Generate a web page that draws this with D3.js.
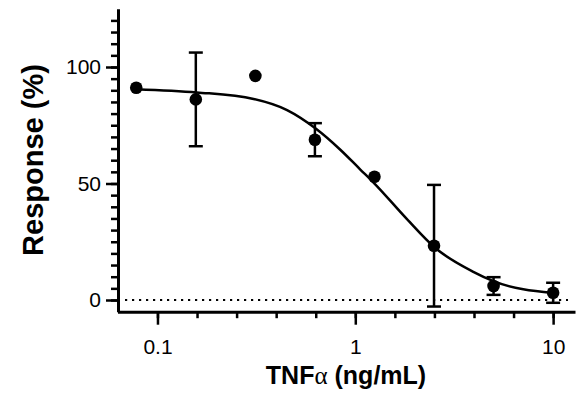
<!DOCTYPE html>
<html>
<head>
<meta charset="utf-8">
<script src="https://cdn.jsdelivr.net/npm/d3@7"></script>
<style>
	body { margin: 0; background: #fff; }
	svg text { font-family: "Liberation Sans", Arial, sans-serif; fill: #000; }
</style>
</head>
<body>
<div id="chart"></div>
<script>
// measured points (TNFa dilution series), mean and error (+/-)
const conc = [0.078125, 0.15625, 0.3125, 0.625, 1.25, 2.5, 5, 10];
const response = [91.1, 86.1, 96.2, 68.8, 52.9, 23.3, 6.0, 3.1];
const errs = [0, 20.1, 0, 7.1, 0, 26.1, 3.8, 4.3];

// fitted curve
const curveConc = [0.078, 0.158, 0.306, 0.452, 0.628, 0.84, 1.06, 1.24, 1.82, 2.53, 3.95, 4.99, 10];
const curveResp = [90.5, 89.1, 86.3, 81.5, 73.7, 64.5, 56.0, 50.3, 34.8, 22.4, 12.1, 8.1, 3.0];

const xMajor = [0.1, 1, 10];
const yMajor = [0, 50, 100];

const width = 582;
const height = 395;

const svg = d3.select("#chart")
	.append("svg")
	.attr("width", width)
	.attr("height", height);

const x = d3.scaleLog()
	.domain([0.0628, 12.9])
	.range([117.5, 575]);

const y = d3.scaleLinear()
	.domain([-5, 125])
	.range([311.65, 8.75]);

const axisY = 311.7;
const axisX = 118;

// minor ticks
const xMinor = d3.range(0, 11).map(k => Math.pow(10, -1 + 0.2 * k));
const yMinor = d3.range(0, 121, 5);

svg.append("g")
	.attr("transform", `translate(0,${axisY})`)
	.call(d3.axisBottom(x).tickValues(xMinor).tickSize(6.5).tickSizeOuter(0).tickFormat(""))
	.call(g => g.select(".domain").remove())
	.call(g => g.selectAll("line").attr("stroke", "#000").attr("stroke-width", 2.5));

svg.append("g")
	.attr("transform", `translate(${axisX},0)`)
	.call(d3.axisLeft(y).tickValues(yMinor).tickSize(7).tickSizeOuter(0).tickFormat(""))
	.call(g => g.select(".domain").remove())
	.call(g => g.selectAll("line").attr("stroke", "#000").attr("stroke-width", 2.5));

// major axes
svg.append("g")
	.attr("transform", `translate(0,${axisY})`)
	.call(d3.axisBottom(x).tickValues(xMajor).tickSize(13).tickSizeOuter(0).tickPadding(14)
		.tickFormat(d => String(d)))
	.call(g => g.select(".domain").attr("stroke", "#000").attr("stroke-width", 3))
	.call(g => g.selectAll("line").attr("stroke", "#000").attr("stroke-width", 2.5))
	.call(g => g.selectAll("text").attr("font-size", 21).attr("font-family", "Liberation Sans, Arial, sans-serif"));

svg.append("g")
	.attr("transform", `translate(${axisX},0)`)
	.call(d3.axisLeft(y).tickValues(yMajor).tickSize(12).tickSizeOuter(0).tickPadding(5))
	.call(g => g.select(".domain").attr("stroke", "#000").attr("stroke-width", 3))
	.call(g => g.selectAll("line").attr("stroke", "#000").attr("stroke-width", 2.5))
	.call(g => g.selectAll("text").attr("font-size", 21).attr("font-family", "Liberation Sans, Arial, sans-serif"));

// zero reference line
svg.append("line")
	.attr("x1", 125)
	.attr("x2", 568)
	.attr("y1", y(0))
	.attr("y2", y(0))
	.attr("stroke", "#000")
	.attr("stroke-width", 2.2)
	.attr("stroke-dasharray", "2.2,4.8");

// fitted curve
const line = d3.line()
	.x(d => x(d[0]))
	.y(d => y(d[1]))
	.curve(d3.curveMonotoneX);

svg.append("path")
	.datum(d3.zip(curveConc, curveResp))
	.attr("d", line)
	.attr("fill", "none")
	.attr("stroke", "#000")
	.attr("stroke-width", 2.5);

// error bars
const pts = conc.map((c, i) => ({c: c, v: response[i], e: errs[i]}));
const bars = svg.append("g")
	.selectAll("g")
	.data(pts.filter(d => d.e > 0))
	.enter()
	.append("g")
	.attr("stroke", "#000")
	.attr("stroke-width", 2.5);

bars.append("line")
	.attr("x1", d => x(d.c))
	.attr("x2", d => x(d.c))
	.attr("y1", d => y(d.v - d.e))
	.attr("y2", d => y(d.v + d.e));

bars.append("line")
	.attr("x1", d => x(d.c) - 7)
	.attr("x2", d => x(d.c) + 7)
	.attr("y1", d => y(d.v + d.e))
	.attr("y2", d => y(d.v + d.e));

bars.append("line")
	.attr("x1", d => x(d.c) - 7)
	.attr("x2", d => x(d.c) + 7)
	.attr("y1", d => y(d.v - d.e))
	.attr("y2", d => y(d.v - d.e));

// points
svg.append("g")
	.selectAll("circle")
	.data(pts)
	.enter()
	.append("circle")
	.attr("cx", d => x(d.c))
	.attr("cy", d => y(d.v))
	.attr("r", 6.3)
	.style("fill", "#000");

// axis titles
svg.append("text")
	.attr("transform", "translate(43,160) rotate(-90)")
	.attr("text-anchor", "middle")
	.attr("font-size", 29)
	.attr("font-weight", "bold")
	.text("Response (%)");

const xTitle = svg.append("text")
	.attr("x", 346)
	.attr("y", 384)
	.attr("text-anchor", "middle")
	.attr("font-size", 25)
	.attr("font-weight", "bold");
xTitle.append("tspan").text("TNF");
xTitle.append("tspan")
	.attr("font-family", "Liberation Serif, serif")
	.attr("font-weight", "normal")
	.style("font-family", "Liberation Serif, serif")
	.text("α");
xTitle.append("tspan").text(" (ng/mL)");
</script>
</body>
</html>
